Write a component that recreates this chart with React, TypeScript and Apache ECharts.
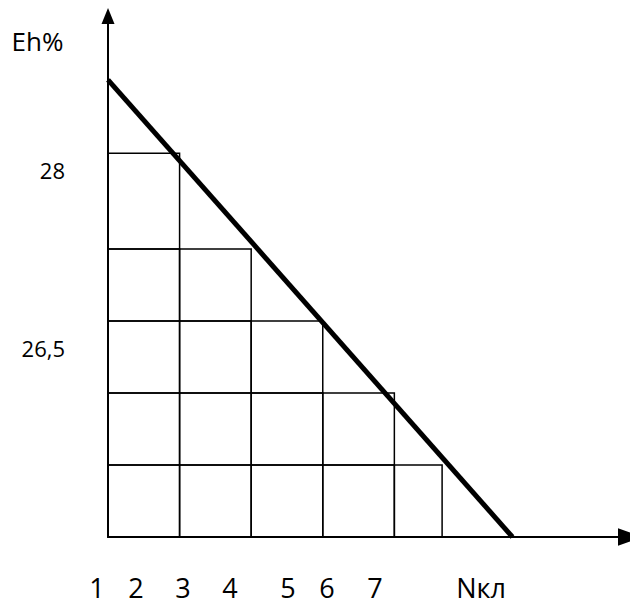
import React, { useEffect, useRef } from "react";
import * as echarts from "echarts";

// Step diagram data (axis units)
const stepTops = [1, 2, 3, 4, 5.33]; // upper edge of each row of cells (bottom row first)
const stepRights = [4.667, 4, 3, 2, 1]; // right edge of each row
const columnEdges = [0, 1, 2, 3, 4, 4.667];
const lineStart = [0, 6.35];
const lineEnd = [5.65, 0];

// Texts
const yTitle = "Eh%";
const yTickLabels = ["28", "26,5"];
const xTickLabels = ["1", "2", "3", "4", "5", "6", "7", "Nкл"];

// Layout (pixels)
const yTickLabelY = [170, 348];
const xTickLabelX = [97, 136, 183, 230, 288, 327, 375, 481];

const FONT = '"Open Sans", "Noto Sans", sans-serif';

function buildCells() {
  const cells: number[][] = [];
  stepTops.forEach((top, i) => {
    const bottom = i === 0 ? 0 : stepTops[i - 1];
    const right = stepRights[i];
    for (let c = 0; c < columnEdges.length - 1; c++) {
      const x0 = columnEdges[c];
      const x1 = Math.min(columnEdges[c + 1], right);
      if (x0 >= right) break;
      cells.push([x0, bottom, x1, top]);
    }
  });
  return cells;
}

export default function App() {
  const ref = useRef<HTMLDivElement>(null);
  useEffect(() => {
    if (!ref.current) return;
    const chart = echarts.init(ref.current, undefined, { renderer: "svg" });
    const cells = buildCells();
    const graphic: any[] = [
      {
        type: "text",
        x: 37.5,
        y: 40.5,
        style: {
          text: yTitle,
          font: `26px ${FONT}`,
          fill: "#000",
          align: "center",
          verticalAlign: "middle",
        },
      },
      ...yTickLabels.map((t, i) => ({
        type: "text",
        x: 65,
        y: yTickLabelY[i],
        style: {
          text: t,
          font: `22px ${FONT}`,
          fill: "#000",
          align: "right",
          verticalAlign: "middle",
        },
      })),
      ...xTickLabels.map((t, i) => ({
        type: "text",
        x: xTickLabelX[i],
        y: 587.5,
        style: {
          text: t,
          font: `27px ${FONT}`,
          fill: "#000",
          align: "center",
          verticalAlign: "middle",
        },
      })),
    ];
    chart.setOption({
      animation: false,
      backgroundColor: "#fff",
      grid: { left: 108, top: 16, width: 525, height: 521 },
      xAxis: {
        type: "value",
        min: 0,
        max: 525 / 72,
        axisLine: {
          onZero: false,
          symbol: ["none", "triangle"],
          symbolSize: [17.7, 24],
          lineStyle: { color: "#000", width: 2 },
        },
        axisTick: { show: false },
        axisLabel: { show: false },
        splitLine: { show: false },
      },
      yAxis: {
        type: "value",
        min: 0,
        max: 521 / 72,
        axisLine: {
          show: true,
          onZero: false,
          symbol: ["none", "triangle"],
          symbolSize: [13, 16],
          lineStyle: { color: "#000", width: 2 },
        },
        axisTick: { show: false },
        axisLabel: { show: false },
        splitLine: { show: false },
      },
      series: [
        {
          type: "custom",
          clip: false,
          data: cells,
          renderItem: (params: any, api: any) => {
            const p0 = api.coord([api.value(0), api.value(3)]);
            const p1 = api.coord([api.value(2), api.value(1)]);
            return {
              type: "rect",
              shape: { x: p0[0], y: p0[1], width: p1[0] - p0[0], height: p1[1] - p0[1] },
              style: { fill: "none", stroke: "#000", lineWidth: 1.5 },
            };
          },
          z: 2,
        },
        {
          type: "line",
          clip: false,
          data: [lineStart, lineEnd],
          symbol: "none",
          lineStyle: { color: "#000", width: 5 },
          z: 3,
        },
      ],
      graphic,
    });
    return () => chart.dispose();
  }, []);
  return (
    <div
      ref={ref}
      style={{ position: "absolute", left: 0, top: 0, width: 630, height: 606 }}
    />
  );
}
